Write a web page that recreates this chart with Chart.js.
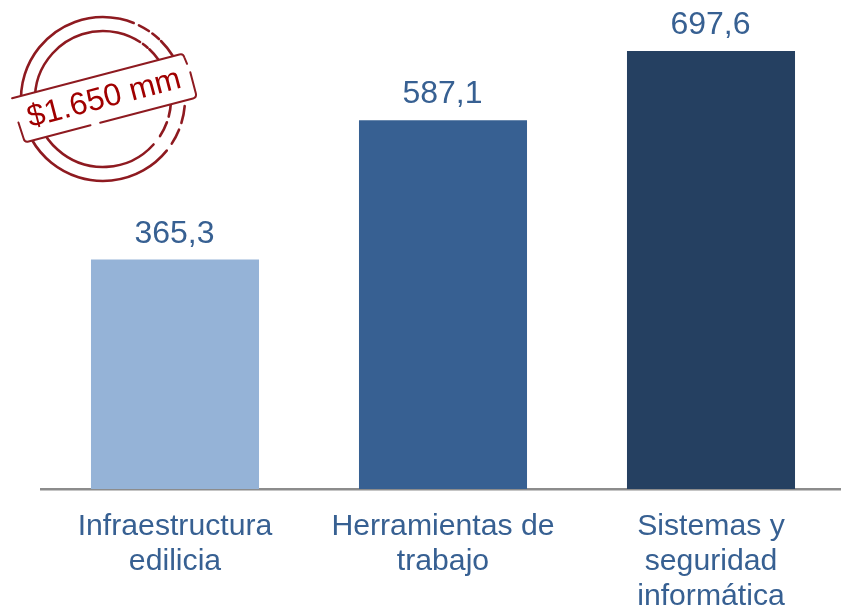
<!DOCTYPE html>
<html>
<head>
<meta charset="utf-8">
<script src="https://cdn.jsdelivr.net/npm/chart.js@4"></script>
<style>
    html, body { margin: 0; padding: 0; background: #fff; overflow: hidden; }
    #wrap { width: 841px; height: 613px; overflow: hidden; }
</style>
</head>
<body>
<div id="wrap"><canvas id="chart" width="860" height="613"></canvas></div>
<script>
const categories = [['Infraestructura', 'edilicia'], ['Herramientas de', 'trabajo'], ['Sistemas y', 'seguridad', 'informática']];
const values = [365.3, 587.1, 697.6];
const barColors = ['#95B3D7', '#376092', '#254061'];
const stampText = '$1.650 mm';

const textColor = '#376092';
const stampColor = '#8E1A20';

// arcos del sello, en grados (0 = derecha, sentido horario)
const outerArcs = [[39, 281], [282, 292], [296, 304], [307, 313], [315, 328], [5, 17], [22, 33]];
const innerArcs = [[42, 282], [283, 303], [306, 311], [313, 325], [3, 15], [20, 33]];

// etiquetas de valor encima de cada barra
const valueLabels = {
    id: 'valueLabels',
    afterDatasetsDraw(chart) {
        const ctx = chart.ctx;
        ctx.save();
        ctx.font = '32px "Liberation Sans"';
        ctx.fillStyle = textColor;
        ctx.textAlign = 'center';
        ctx.textBaseline = 'alphabetic';
        chart.getDatasetMeta(0).data.forEach((bar, i) => {
            ctx.fillText(values[i].toFixed(1).replace('.', ','), bar.x - 0.5, bar.y - 17);
        });
        ctx.restore();
    }
};

const stamp = {
    id: 'stamp',
    afterDraw(chart) {
        const ctx = chart.ctx;
        ctx.save();
        ctx.translate(103, 99);
        ctx.strokeStyle = stampColor;
        ctx.lineWidth = 2.6;
        ctx.lineCap = 'round';
        const drawArcs = (arcs, r) => arcs.forEach(([a, b]) => {
            ctx.beginPath();
            ctx.arc(0, 0, r, a * Math.PI / 180, b * Math.PI / 180);
            ctx.stroke();
        });
        drawArcs(outerArcs, 82);
        drawArcs(innerArcs, 68);

        // banda girada con el monto
        ctx.translate(1, -1);
        ctx.rotate(-14.7 * Math.PI / 180);
        ctx.fillStyle = '#fff';
        ctx.fillRect(-89, -23, 178, 46);
        ctx.lineWidth = 2;
        ctx.beginPath();
        ctx.moveTo(-89, -23);
        ctx.lineTo(84, -23);
        ctx.quadraticCurveTo(88, -23, 88, -19);
        ctx.lineTo(89, -12);
        ctx.moveTo(90, -3);
        ctx.lineTo(90, 19);
        ctx.quadraticCurveTo(90, 23, 86, 23);
        ctx.lineTo(-10, 23);
        ctx.moveTo(-20, 23);
        ctx.lineTo(-84, 23);
        ctx.quadraticCurveTo(-88, 23, -88, 19);
        ctx.lineTo(-89, 2);
        ctx.stroke();

        ctx.font = '31.5px "Liberation Sans"';
        ctx.fillStyle = '#A00000';
        ctx.textAlign = 'center';
        ctx.textBaseline = 'middle';
        ctx.fillText(stampText, 0, 1);
        ctx.restore();
    }
};

new Chart(document.getElementById('chart').getContext('2d'), {
    type: 'bar',
    data: {
        labels: categories,
        datasets: [{
            data: values,
            backgroundColor: barColors,
            borderWidth: 0,
            categoryPercentage: 1,
            barPercentage: 0.627
        }]
    },
    options: {
        responsive: false,
        animation: false,
        layout: { padding: { left: 41, right: 15, top: 18, bottom: 0 } },
        plugins: { legend: { display: false }, tooltip: { enabled: false } },
        scales: {
            x: {
                afterFit(scale) { scale.height = 124; },
                grid: { display: false },
                border: { color: '#8C8C8C', width: 2.5 },
                ticks: {
                    color: textColor,
                    font: { family: '"Liberation Sans"', size: 30.2, lineHeight: 1.16 },
                    padding: 12,
                    maxRotation: 0,
                    autoSkip: false
                }
            },
            y: { display: false, min: 0, max: 750 }
        }
    },
    plugins: [valueLabels, stamp]
});
</script>
</body>
</html>
